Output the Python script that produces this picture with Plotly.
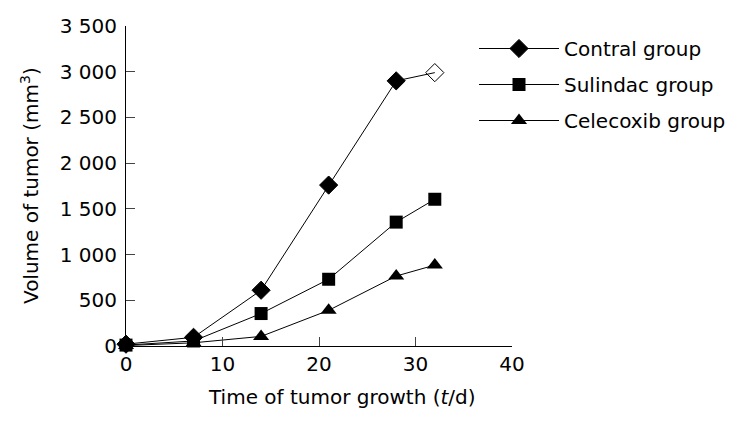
import plotly.graph_objects as go

days = [0, 7, 14, 21, 28, 32]
control = [20, 95, 610, 1760, 2900, 2990]
sulindac = [10, 55, 355, 730, 1355, 1605]
celecoxib = [5, 35, 105, 390, 765, 885]
y_ticks = [0, 500, 1000, 1500, 2000, 2500, 3000, 3500]
y_tick_text = ["0", "500", "1 000", "1 500", "2 000", "2 500", "3 000", "3 500"]
x_ticks = [0, 10, 20, 30, 40]

FONT = "DejaVu Sans"
L, R, T, B = 126, 512, 26, 346
W, H = R - L, B - T
fig = go.Figure()

fig.add_trace(go.Scatter(
    x=days, y=control, name="Contral group", mode="lines+markers",
    line=dict(color="black", width=1),
    marker=dict(symbol=["diamond"] * 5 + ["diamond-open"], size=14, color="black",
                line=dict(color="black", width=1)),
    cliponaxis=False, legendgroup="a"))
fig.add_trace(go.Scatter(
    x=days, y=sulindac, name="Sulindac group", mode="lines+markers",
    line=dict(color="black", width=1),
    marker=dict(symbol="square", size=13, color="black"),
    cliponaxis=False, legendgroup="b"))
fig.add_trace(go.Scatter(
    x=days, y=celecoxib, name="Celecoxib group", mode="lines+markers",
    line=dict(color="black", width=1),
    marker=dict(symbol="triangle-up", size=14, color="black"),
    cliponaxis=False, legendgroup="c"))

fig.update_layout(
    width=742, height=426,
    margin=dict(l=L, r=742 - R, t=T, b=426 - B, autoexpand=False),
    paper_bgcolor="white", plot_bgcolor="white",
    font=dict(family=FONT, size=20, color="black"),
    showlegend=True,
    legend=dict(x=(474 - L) / W, xanchor="left", y=1 - 3 / H, yanchor="top",
                font=dict(size=20), tracegroupgap=7, itemwidth=80,
                bgcolor="rgba(0,0,0,0)"),
    xaxis=dict(range=[0, 40], tickvals=x_ticks, ticks="inside", ticklen=9,
               showline=True, linecolor="black", linewidth=1, showgrid=False,
               zeroline=False, tickfont=dict(size=20), automargin=False),
    yaxis=dict(range=[0, 3500], tickvals=y_ticks, ticktext=y_tick_text,
               ticks="inside", ticklen=9, showline=True, linecolor="black",
               linewidth=1, showgrid=False, zeroline=False, ticklabelstandoff=4,
               tickfont=dict(size=20), automargin=False),
    annotations=[
        dict(text="Time of tumor growth (<i>t</i>/d)", xref="paper", yref="paper",
             x=(342 - L) / W, y=-51 / H, xanchor="center", yanchor="middle",
             showarrow=False, font=dict(size=20)),
        dict(text="Volume of tumor (mm<sup>3</sup>)", xref="paper", yref="paper",
             x=(30 - L) / W, y=(B - 186) / H, xanchor="center", yanchor="middle",
             textangle=-90, showarrow=False, font=dict(size=20)),
    ],
)

fig.write_html("out.html", config={"displayModeBar": False},
               post_script="document.body.style.margin='0';")
